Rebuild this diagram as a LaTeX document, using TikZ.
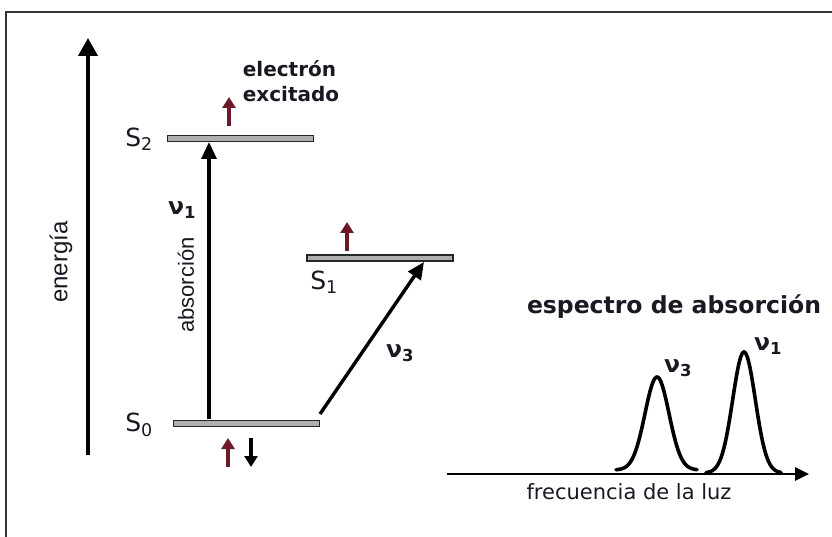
\documentclass[tikz,border=0pt]{standalone}
\usepackage{fontspec}
\setmainfont{DejaVu Sans}
\newfontfamily\lsans{Liberation Sans}
\usetikzlibrary{arrows.meta}
\definecolor{spinred}{RGB}{110,25,40}
\definecolor{levelgray}{RGB}{175,175,175}
\definecolor{ink}{RGB}{25,25,35}
\begin{document}
\begin{tikzpicture}[x=1pt,y=-1pt,
  level/.style={draw=black!85,fill=levelgray,line width=1.8pt,minimum width=146pt,minimum height=6pt,inner sep=0pt},
  txt/.style={inner sep=0pt,text=ink,font=\bfseries\fontsize{23.5}{25}\selectfont},
  small/.style={inner sep=0pt,text=ink,font=\bfseries\fontsize{20}{25}\selectfont},
  slabel/.style={inner sep=0pt,text=ink,font=\fontsize{25}{27}\selectfont},
  vert/.style={inner sep=0pt,rotate=90,text=ink,font=\lsans\fontsize{24}{26}\selectfont},
  bigarrow/.style={line width=3.8pt,-{Triangle[length=18pt,width=19pt]}},
  trans/.style={line width=3.4pt,-{Triangle[length=17pt,width=15pt]}},
  spin/.style={line width=3.6pt,-{Triangle[length=11pt,width=13pt]}},
  curve/.style={line width=3.6pt,line cap=round}]
\useasboundingbox (0,0) rectangle (832,537);
\fill[white] (0,0) rectangle (832,537);
% frame
\coordinate (fb) at (6,540);
\coordinate (fc) at (6,12);
\coordinate (fr) at (840,12);
\draw[line width=2.4pt,black!80] (fb) -- (fc) -- (fr);
% energy axis
\coordinate (e0) at (88,455);
\coordinate (e1) at (88,38);
\draw[bigarrow] (e0) -- (e1);
\node[vert] (energia) at (61,262) {energía};
% levels
\node[level] (S2) at (240.5,138.5) {};
\node[level] (S1) at (380,258) {};
\node[level] (S0) at (246.5,423.5) {};
\node[slabel] (lS2) at (139,139) {S\textsubscript{2}};
\node[slabel] (lS1) at (324,282) {S\textsubscript{1}};
\node[slabel] (lS0) at (139,425) {S\textsubscript{0}};
% electron text
\node[small,align=left] (exc) at (291,81) {electrón\\excitado};
% spins
\coordinate (a0) at (229,126);
\coordinate (a1) at (229,97);
\draw[spin,spinred] (a0) -- (a1);
\coordinate (b0) at (347,251);
\coordinate (b1) at (347,222);
\draw[spin,spinred] (b0) -- (b1);
\coordinate (c0) at (228,467);
\coordinate (c1) at (228,438);
\draw[spin,spinred] (c0) -- (c1);
\coordinate (d0) at (251,438);
\coordinate (d1) at (251,467);
\draw[spin,black] (d0) -- (d1);
% transitions
\coordinate (t0) at (209,419);
\coordinate (t1) at (209,142);
\draw[trans] (t0) -- (t1);
\coordinate (u0) at (320,414);
\coordinate (u1) at (424,262);
\draw[trans] (u0) -- (u1);
\node[txt] (nu1) at (182,210) {ν\textsubscript{1}};
\node[vert,font=\lsans\fontsize{22}{24}\selectfont] (abs) at (186,285) {absorción};
\node[txt] (nu3) at (400,353) {ν\textsubscript{3}};
% spectrum
\coordinate (s0) at (447,474);
\coordinate (s1) at (809,474);
\draw[line width=2.8pt,-{Triangle[length=14pt,width=13pt]}] (s0) -- (s1);
\draw[curve] plot[domain=616:697,samples=80,smooth] (\x,{470-93*exp(-((\x-657)/17)^2)});
\draw[curve] plot[domain=706:781,samples=80,smooth] (\x,{473-121*exp(-((\x-744)/16)^2)});
\node[txt] (nu3s) at (678,368) {ν\textsubscript{3}};
\node[txt] (nu1s) at (768,346) {ν\textsubscript{1}};
\node[txt] (espectro) at (674,307) {espectro de absorción};
\node[inner sep=0pt,text=ink,font=\fontsize{21}{23}\selectfont] (frec) at (629,492) {frecuencia de la luz};
\end{tikzpicture}
\end{document}
